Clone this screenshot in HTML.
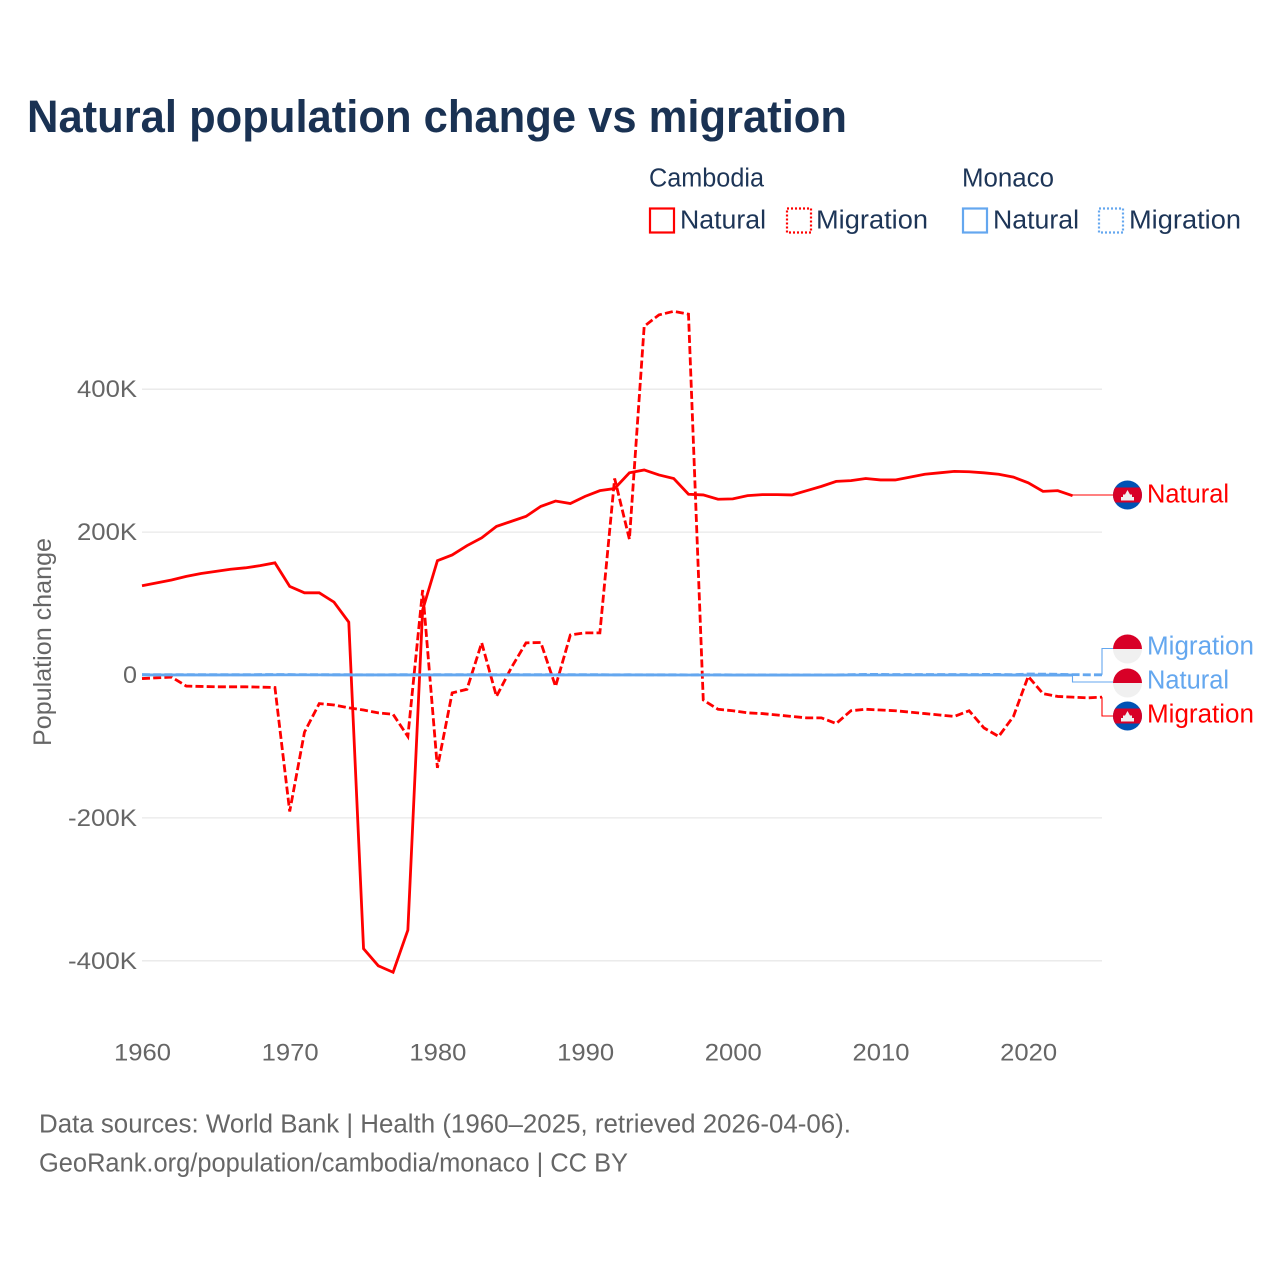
<!DOCTYPE html>
<html lang="en">
<head>
<meta charset="utf-8">
<title>Natural population change vs migration</title>
<style>
html,body{margin:0;padding:0;background:#fff;}
svg{display:block;font-family:"Liberation Sans",sans-serif;}
</style>
</head>
<body>
<svg id="chart" xmlns="http://www.w3.org/2000/svg" width="1280" height="1280" viewBox="0 0 1280 1280">
  <rect width="1280" height="1280" fill="#ffffff"/>
  <text x="27" y="132" font-size="45" font-weight="700" fill="#1a3253" textLength="820" lengthAdjust="spacingAndGlyphs">Natural population change vs migration</text>

  <g font-size="25.5" fill="#1d3557">
    <text x="649" y="186.5" textLength="115" lengthAdjust="spacingAndGlyphs">Cambodia</text>
    <text x="962" y="186.5" textLength="92" lengthAdjust="spacingAndGlyphs">Monaco</text>
    <rect x="650" y="208.5" width="24" height="24" fill="none" stroke="#ff0000" stroke-width="2.2"/>
    <text x="680" y="228.5" textLength="86" lengthAdjust="spacingAndGlyphs">Natural</text>
    <rect x="787" y="208.5" width="24" height="24" fill="none" stroke="#ff0000" stroke-width="2.2" stroke-dasharray="2 2"/>
    <text x="816" y="228.5" textLength="112" lengthAdjust="spacingAndGlyphs">Migration</text>
    <rect x="963" y="208.5" width="24" height="24" fill="none" stroke="#64a7ef" stroke-width="2.2"/>
    <text x="993" y="228.5" textLength="86" lengthAdjust="spacingAndGlyphs">Natural</text>
    <rect x="1099" y="208.5" width="24" height="24" fill="none" stroke="#64a7ef" stroke-width="2.2" stroke-dasharray="2 2"/>
    <text x="1129" y="228.5" textLength="112" lengthAdjust="spacingAndGlyphs">Migration</text>
  </g>

  <text transform="translate(51 642) rotate(-90)" text-anchor="middle" font-size="25" fill="#666666" textLength="208" lengthAdjust="spacingAndGlyphs">Population change</text>

  <g id="grid"></g>
  <g id="yticks"></g>
  <g id="xticks"></g>
  <g id="connectors"></g>
  <g id="series"></g>

  <defs>
    <clipPath id="flag-clip-a"><circle cx="1127.5" cy="495" r="14.5"/></clipPath>
    <clipPath id="flag-clip-b"><circle cx="1127.5" cy="649" r="14.5"/></clipPath>
    <clipPath id="flag-clip-c"><circle cx="1127.5" cy="683" r="14.5"/></clipPath>
    <clipPath id="flag-clip-d"><circle cx="1127.5" cy="716" r="14.5"/></clipPath>
  </defs>

  <g clip-path="url(#flag-clip-a)">
    <rect x="1113" y="480.5" width="29" height="29" fill="#0052b4"/>
    <rect x="1113" y="487.5" width="29" height="15" fill="#d80027"/>
    <polygon points="1121,500.5 1121,497 1123,497 1123,494.5 1125,494.5 1127.5,490 1130,494.5 1132,494.5 1132,497 1134,497 1134,500.5" fill="#f0f0f0"/>
  </g>
  <g clip-path="url(#flag-clip-b)">
    <rect x="1113" y="634.5" width="29" height="15" fill="#d80027"/>
    <rect x="1113" y="649" width="29" height="15" fill="#f0f0f0"/>
  </g>
  <g clip-path="url(#flag-clip-c)">
    <rect x="1113" y="668.5" width="29" height="15" fill="#d80027"/>
    <rect x="1113" y="683" width="29" height="15" fill="#f0f0f0"/>
  </g>
  <g clip-path="url(#flag-clip-d)">
    <rect x="1113" y="701.5" width="29" height="29" fill="#0052b4"/>
    <rect x="1113" y="708.5" width="29" height="15" fill="#d80027"/>
    <polygon points="1121,721.5 1121,718 1123,718 1123,715.5 1125,715.5 1127.5,711 1130,715.5 1132,715.5 1132,718 1134,718 1134,721.5" fill="#f0f0f0"/>
  </g>

  <g font-size="25.5">
    <text x="1147" y="502.5" fill="#ff0000" textLength="82" lengthAdjust="spacingAndGlyphs">Natural</text>
    <text x="1147" y="654.5" fill="#64a7ef" textLength="107" lengthAdjust="spacingAndGlyphs">Migration</text>
    <text x="1147" y="688.5" fill="#64a7ef" textLength="82" lengthAdjust="spacingAndGlyphs">Natural</text>
    <text x="1147" y="722.5" fill="#ff0000" textLength="107" lengthAdjust="spacingAndGlyphs">Migration</text>
  </g>

  <g font-size="25.5" fill="#666666">
    <text x="39" y="1132.5" textLength="812" lengthAdjust="spacingAndGlyphs">Data sources: World Bank | Health (1960–2025, retrieved 2026-04-06).</text>
    <a><text x="39" y="1171.5" textLength="589" lengthAdjust="spacingAndGlyphs">GeoRank.org/population/cambodia/monaco | CC BY</text></a>
  </g>
</svg>

<script>
// First year of every series (each array runs year by year from here)
const startYear = 1960;

// Values in thousands of people
const cambodiaNatural = [
  125, 129, 133, 138, 142, 145, 148, 150, 153, 157,
  124, 115, 115, 102, 74, -383, -407, -416, -357, 91,
  160, 168, 181, 192, 208, 215, 222, 236, 243.5, 240,
  250, 258, 261, 283, 287, 280, 275, 253, 252, 246,
  246.5, 251, 252.5, 252.5, 252, 258, 264, 271, 272, 275,
  273, 273, 277, 281, 283, 285, 284.5, 283, 281, 277,
  269, 257, 258, 251
];
const cambodiaMigration = [
  -5, -4, -3, -15.5, -16, -16.5, -16.5, -16.5, -17, -17.5,
  -191, -80, -40, -42, -46, -49, -53, -55, -86, 119,
  -130, -25, -20, 45, -30, 10, 45, 45.5, -16, 56,
  59, 59, 275, 190, 488, 504, 509, 505, -35, -48,
  -50, -53, -54, -56, -58, -60, -60, -68, -50, -48,
  -49, -50, -52, -54, -56, -58, -50, -74, -86, -58,
  -2, -26, -30, -31, -32, -31
];
const monacoNatural = [
  0.1, 0.1, 0.1, 0.1, 0.1, 0.1, 0.1, 0.1, 0.1, 0.2,
  0.2, 0.2, 0.2, 0.1, 0.1, 0.1, 0.1, 0.1, 0.1, 0.1,
  0.1, 0.1, 0.1, 0.1, 0.1, 0.1, 0.1, 0.1, 0.1, 0.1,
  0.1, 0.1, 0.1, 0.1, 0.1, 0.1, 0, 0, 0, 0,
  -0.1, -0.1, -0.1, -0.1, -0.1, -0.1, -0.1, -0.1, 0, 0,
  0, 0, 0, 0, 0, 0, 0, 0, 0, -0.1,
  -0.1, -0.1, -0.1, -0.1
];
const monacoMigration = [
  0.6, 0.5, 0.5, 0.5, 0.4, 0.4, 0.4, 0.4, 0.6, 0.6,
  0.6, 0.5, 0.4, 0.4, 0.4, 0.3, 0.3, 0.4, 0.4, 0.4,
  0.4, 0.4, 0.5, 0.4, 0.4, 0.5, 0.4, 0.4, 0.4, 0.5,
  0.5, 0.5, 0.3, 0.4, 0.3, 0.3, 0.3, 0.2, 0.3, 0.3,
  0.2, 0.2, 0.1, 0.1, 0.1, 0.1, 0.1, 0.2, 0.5, 0.9,
  0.8, 0.7, 0.6, 0.6, 0.7, 0.7, 0.6, 0.8, 0.8, 0.4,
  1.4, 1.2, 1.0, 0.5, 0.3, 0.3
];

// Axis tick values and printed labels
const xTickYears = [1960, 1970, 1980, 1990, 2000, 2010, 2020];
const yTickValues = [400, 200, 0, -200, -400];
const yTickLabels = ['400K', '200K', '0', '-200K', '-400K'];

const NS = 'http://www.w3.org/2000/svg';
const xOrigin = 142, xPerYear = 14.77;
const yOrigin = 675, yPerK = 0.7145;
const RED = '#ff0000', BLUE = '#64a7ef', GREY = '#666666';

function xScale(year) { return xOrigin + (year - startYear) * xPerYear; }
function yScale(value) { return yOrigin - value * yPerK; }

function make(tag, attrs, parent) {
  const el = document.createElementNS(NS, tag);
  for (const k in attrs) el.setAttribute(k, attrs[k]);
  parent.appendChild(el);
  return el;
}

const gridG = document.getElementById('grid');
const yG = document.getElementById('yticks');
const xG = document.getElementById('xticks');
const seriesG = document.getElementById('series');
const connG = document.getElementById('connectors');

yTickValues.forEach(function (v, i) {
  const y = yScale(v);
  if (v !== 0) {
    const line = make('line', { x1: xOrigin, x2: 1102, y1: y, y2: y, stroke: '#e8e8e8', 'stroke-width': 1.3 }, gridG);
    
    
  }
  const label = yTickLabels[i];
  const t = make('text', { x: 137, y: y + 8, 'text-anchor': 'end', 'font-size': 24.5, fill: GREY }, yG);
  t.setAttribute('textLength', label === '0' ? 14 : (label.charAt(0) === '-' ? 69 : 60));
  t.setAttribute('lengthAdjust', 'spacingAndGlyphs');
  t.textContent = label;
  
  
});

xTickYears.forEach(function (yr) {
  const t = make('text', { x: xScale(yr) + 0.5, y: 1060.5, 'text-anchor': 'middle', 'font-size': 24.5, fill: GREY, textLength: 57, lengthAdjust: 'spacingAndGlyphs' }, xG);
  t.textContent = String(yr);
  
  
});

function drawSeries(values, color, dashed, name) {
  const pts = values.map(function (v, i) {
    return xScale(startYear + i).toFixed(2) + ',' + yScale(v).toFixed(2);
  }).join(' ');
  const attrs = { points: pts, fill: 'none', stroke: color, 'stroke-width': 2.8, 'stroke-linejoin': 'miter' };
  if (dashed) attrs['stroke-dasharray'] = '8 3.2';
  const line = make('polyline', attrs, seriesG);
  
  
}

function drawConnector(values, color, labelY, elbowX, name) {
  const lastIndex = values.length - 1;
  const x0 = xScale(startYear + lastIndex);
  const y0 = yScale(values[lastIndex]);
  const pts = [x0 + ',' + y0, elbowX + ',' + y0, elbowX + ',' + labelY, '1113,' + labelY].join(' ');
  const c = make('polyline', { points: pts, fill: 'none', stroke: color, 'stroke-width': 1.1 }, connG);
  
  
}

drawConnector(cambodiaNatural, RED, 495, 1072.5, 'connector-cambodia-natural');
drawConnector(cambodiaMigration, RED, 716, 1102, 'connector-cambodia-migration');
drawConnector(monacoNatural, BLUE, 682, 1072.5, 'connector-monaco-natural');
drawConnector(monacoMigration, BLUE, 648.5, 1102, 'connector-monaco-migration');

drawSeries(cambodiaNatural, RED, false, 'line-cambodia-natural');
drawSeries(cambodiaMigration, RED, true, 'line-cambodia-migration');
drawSeries(monacoMigration, BLUE, true, 'line-monaco-migration');
drawSeries(monacoNatural, BLUE, false, 'line-monaco-natural');
</script>
</body>
</html>
